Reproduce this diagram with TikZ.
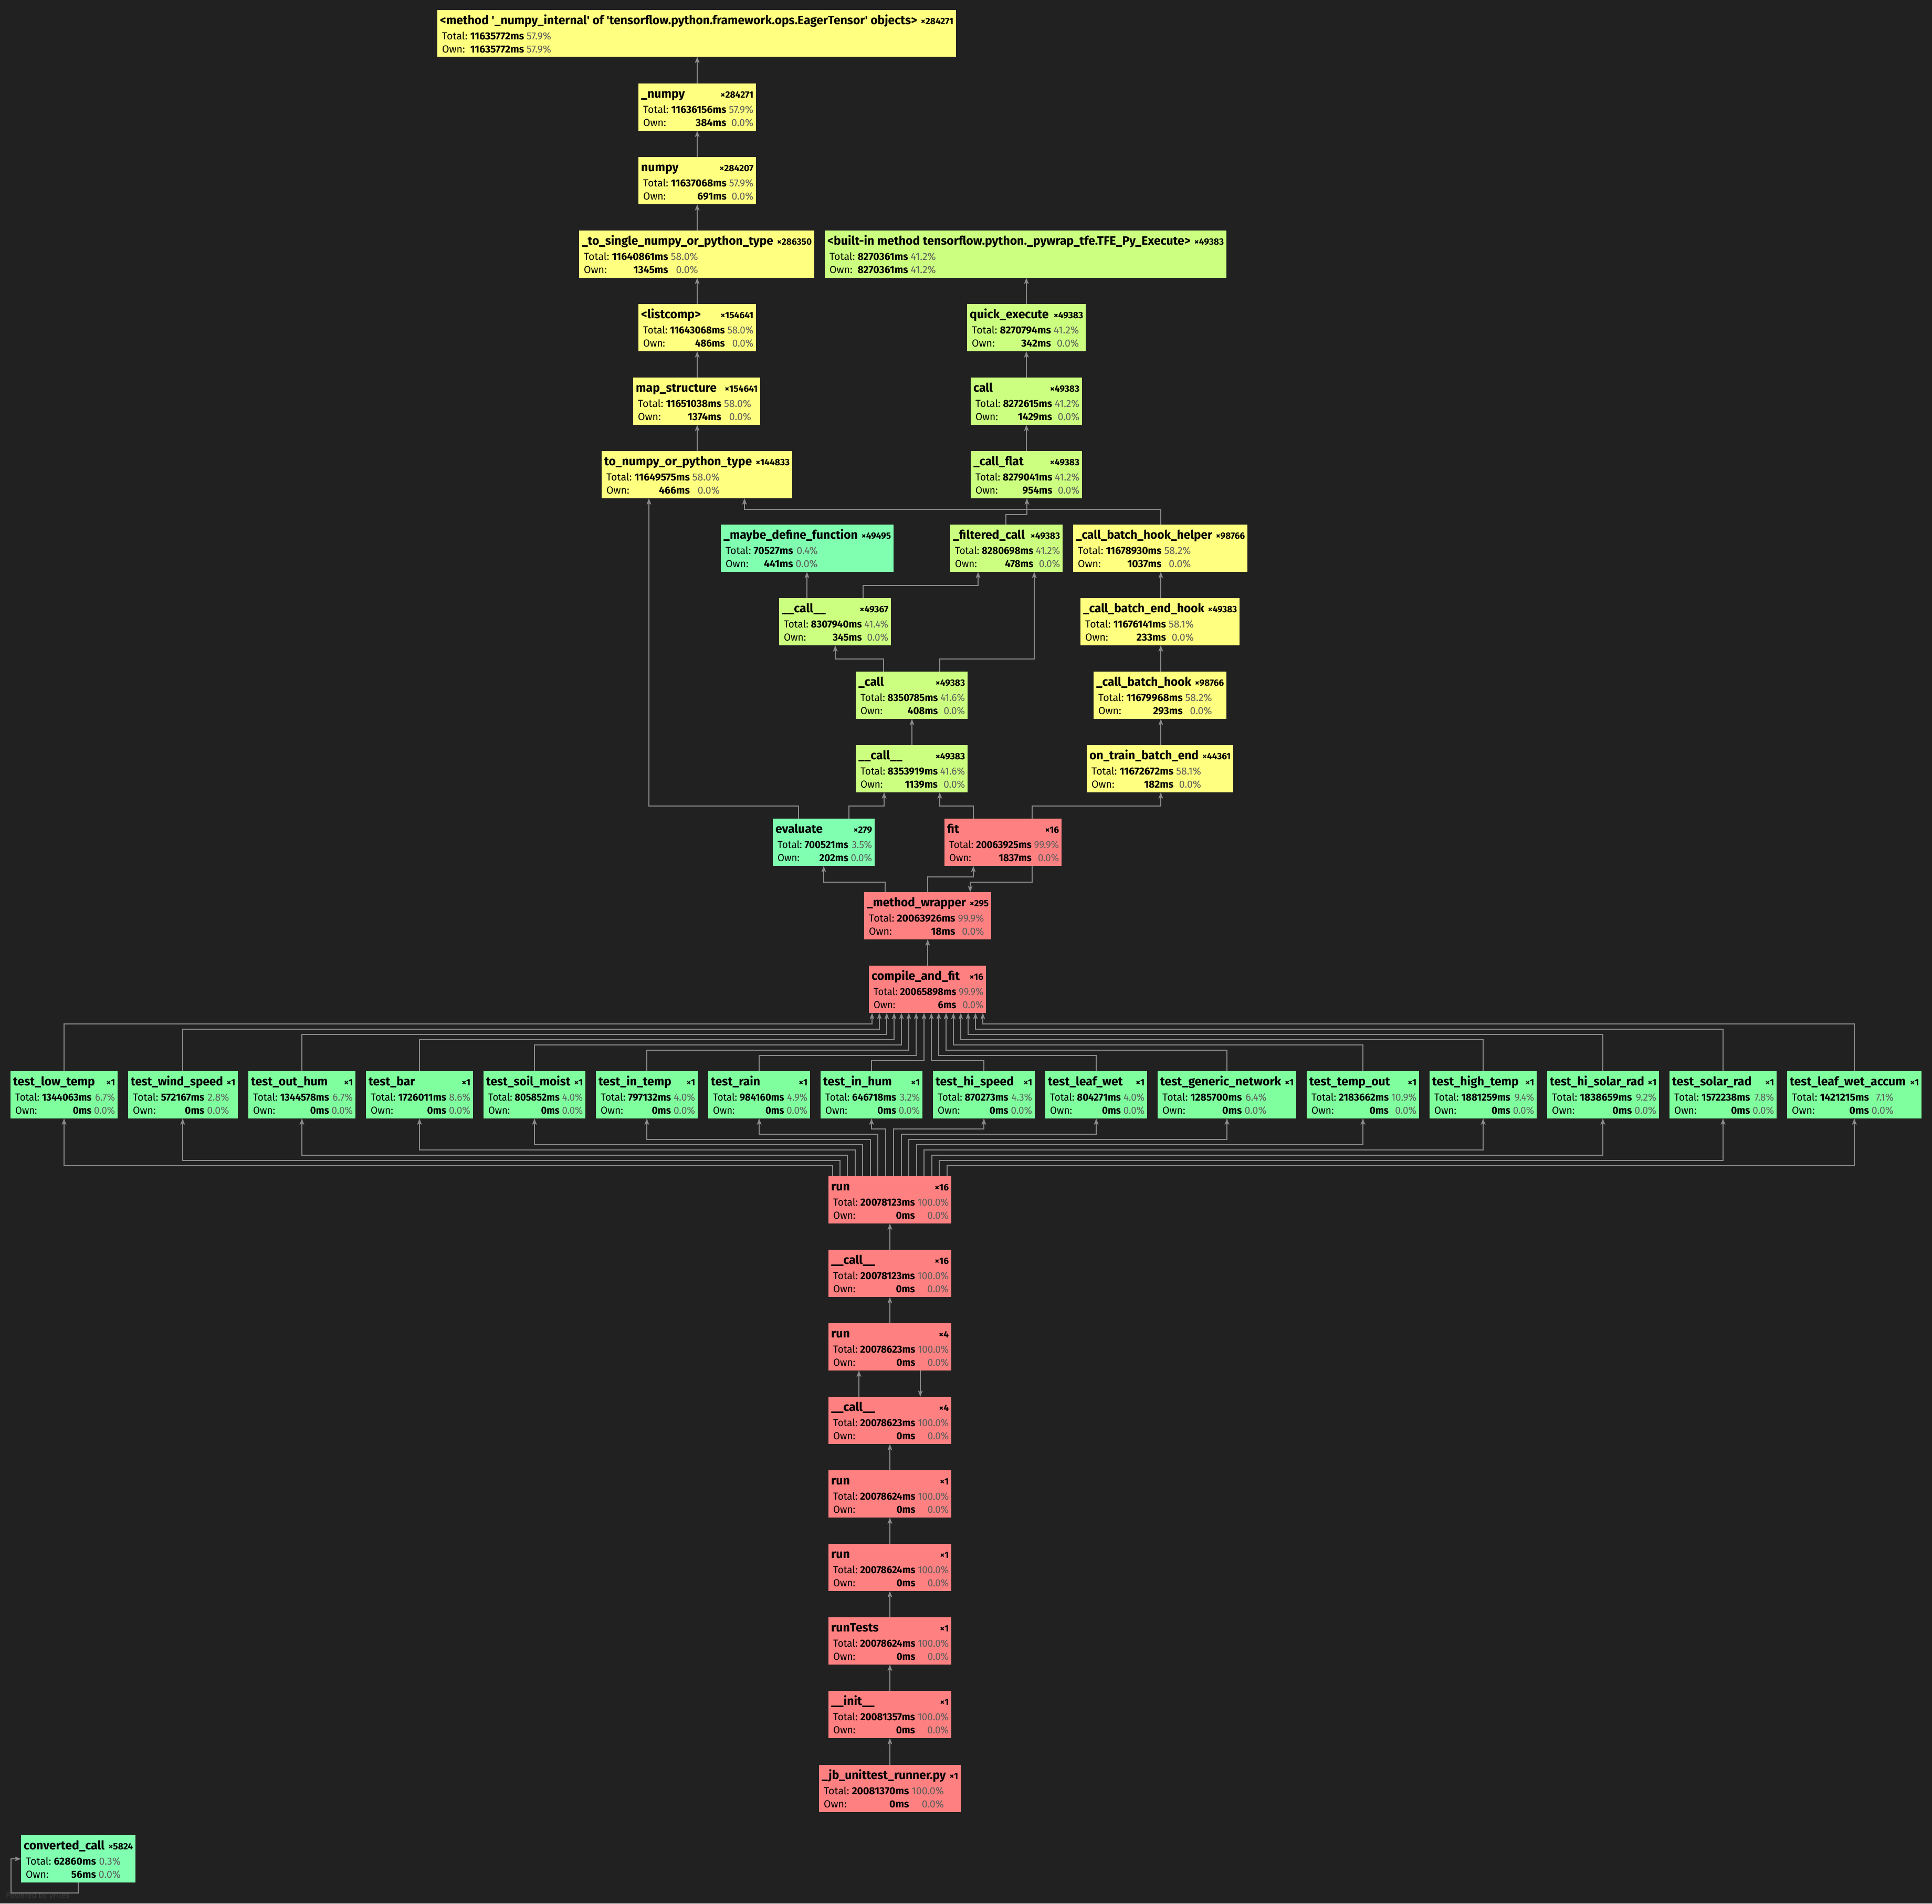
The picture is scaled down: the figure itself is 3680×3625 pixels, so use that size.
\documentclass[tikz,border=0pt]{standalone}
\usepackage{fontspec}
\setmainfont{Fira Sans}
\usepackage{graphicx}
\usetikzlibrary{arrows.meta}
\definecolor{bg}{HTML}{212121}
\definecolor{cY}{HTML}{FFFF80}
\definecolor{cL}{HTML}{CCFF80}
\definecolor{cM}{HTML}{80FFB0}
\definecolor{cG}{HTML}{80FF9F}
\definecolor{cR}{HTML}{FF8080}
\definecolor{pctgray}{HTML}{5C5C5C}
\definecolor{edgec}{HTML}{8A8A8A}
\definecolor{wmark}{HTML}{3A3A3A}
\newsavebox\fbA
\newlength\fbW \newlength\fbV \newlength\fbH
\newcommand\titlefont{\fontsize{23}{25}\selectfont\bfseries}
\newcommand\countfont{\fontsize{17.5}{20}\selectfont\bfseries}
\newcommand\bodyfont{\fontsize{19.5}{25}\selectfont}
\newcommand\squeeze[2]{\sbox\fbA{#2}\setlength\fbH{\ht\fbA}\ifdim\wd\fbA>#1\relax\resizebox{#1}{\fbH}{\usebox\fbA}\else\usebox\fbA\fi}
\newcommand\titleline[3]{\sbox\fbA{\titlefont #2\hspace{7pt}\countfont #3}\setlength\fbH{\ht\fbA}\ifdim\wd\fbA>#1\relax\resizebox{#1}{\fbH}{\usebox\fbA}\else\makebox[#1][l]{\titlefont #2\hfill\countfont #3}\fi}
\newcommand\stats[4]{{\bodyfont\begin{tabular}[t]{@{}l@{\hspace{5pt}}r@{\hspace{5pt}}r@{}}Total: & \textbf{#1} & \textcolor{pctgray}{#2}\\Own: & \textbf{#3} & \textcolor{pctgray}{#4}\end{tabular}}}
\newcommand\fnode[9]{%
 \node[fill=#6, inner sep=0pt, outer sep=0pt, minimum width={#4-#2}, minimum height={#5-#3}, anchor=north west] (#1) at (#2,#3) {};
 \setlength\fbW{\dimexpr #4pt-#2pt-10pt\relax}%
 \setlength\fbV{\dimexpr #4pt-#2pt-14pt\relax}%
 \node[anchor=base west, inner sep=0pt] at ([shift={(5,27)}]#1.north west) {\titleline{\fbW}{#7}{#8}};
 \node[anchor=base west, inner sep=0pt] at ([shift={(9,56)}]#1.north west) {\squeeze{\fbV}{#9}};
}
\newcommand\q{\textquotesingle}
\begin{document}
\begin{tikzpicture}[x=1pt,y=-1pt,
  edge/.style={draw=edgec, line width=1.6pt, -{Stealth[length=12pt,width=9pt,inset=3pt]}}]
\fill[bg] (0,0) rectangle (3680,3625);
\useasboundingbox (0,0) rectangle (3680,3625);
% ---- left column (yellow)
\fnode{meth}{833}{19}{1821}{108}{cY}{<method \q\_numpy\_internal\q{} of \q tensorflow.python.framework.ops.EagerTensor\q{} objects>}{×284271}{\stats{11635772ms}{57.9\%}{11635772ms}{57.9\%}}
\fnode{unp}{1216}{159}{1440}{249}{cY}{\_numpy}{×284271}{\stats{11636156ms}{57.9\%}{384ms}{0.0\%}}
\fnode{np}{1216}{299}{1440}{389}{cY}{numpy}{×284207}{\stats{11637068ms}{57.9\%}{691ms}{0.0\%}}
\fnode{tosingle}{1103}{439}{1551}{529}{cY}{\_to\_single\_numpy\_or\_python\_type}{×286350}{\stats{11640861ms}{58.0\%}{1345ms}{0.0\%}}
\fnode{listc}{1216}{579}{1440}{669}{cY}{<listcomp>}{×154641}{\stats{11643068ms}{58.0\%}{486ms}{0.0\%}}
\fnode{mapst}{1206}{719}{1448}{809}{cY}{map\_structure}{×154641}{\stats{11651038ms}{58.0\%}{1374ms}{0.0\%}}
\fnode{tonp}{1146}{859}{1509}{949}{cY}{to\_numpy\_or\_python\_type}{×144833}{\stats{11649575ms}{58.0\%}{466ms}{0.0\%}}
% ---- right column (lime)
\fnode{builtin}{1571}{439}{2336}{529}{cL}{<built-in method tensorflow.python.\_pywrap\_tfe.TFE\_Py\_Execute>}{×49383}{\stats{8270361ms}{41.2\%}{8270361ms}{41.2\%}}
\fnode{quick}{1842}{579}{2068}{669}{cL}{quick\_execute}{×49383}{\stats{8270794ms}{41.2\%}{342ms}{0.0\%}}
\fnode{callq}{1849}{719}{2061}{809}{cL}{call}{×49383}{\stats{8272615ms}{41.2\%}{1429ms}{0.0\%}}
\fnode{callflat}{1849}{859}{2061}{949}{cL}{\_call\_flat}{×49383}{\stats{8279041ms}{41.2\%}{954ms}{0.0\%}}
\fnode{maybedef}{1373}{999}{1702}{1089}{cM}{\_maybe\_define\_function}{×49495}{\stats{70527ms}{0.4\%}{441ms}{0.0\%}}
\fnode{filt}{1810}{999}{2024}{1089}{cL}{\_filtered\_call}{×49383}{\stats{8280698ms}{41.2\%}{478ms}{0.0\%}}
\fnode{helper}{2044}{999}{2376}{1089}{cY}{\_call\_batch\_hook\_helper}{×98766}{\stats{11678930ms}{58.2\%}{1037ms}{0.0\%}}
\fnode{callA}{1484}{1139}{1697}{1229}{cL}{\_\_call\_\_}{×49367}{\stats{8307940ms}{41.4\%}{345ms}{0.0\%}}
\fnode{endhook}{2058}{1139}{2361}{1229}{cY}{\_call\_batch\_end\_hook}{×49383}{\stats{11676141ms}{58.1\%}{233ms}{0.0\%}}
\fnode{callx}{1630}{1279}{1843}{1369}{cL}{\_call}{×49383}{\stats{8350785ms}{41.6\%}{408ms}{0.0\%}}
\fnode{bhook}{2083}{1279}{2336}{1369}{cY}{\_call\_batch\_hook}{×98766}{\stats{11679968ms}{58.2\%}{293ms}{0.0\%}}
\fnode{callB}{1630}{1419}{1843}{1509}{cL}{\_\_call\_\_}{×49383}{\stats{8353919ms}{41.6\%}{1139ms}{0.0\%}}
\fnode{ontrain}{2070}{1419}{2349}{1509}{cY}{on\_train\_batch\_end}{×44361}{\stats{11672672ms}{58.1\%}{182ms}{0.0\%}}
\fnode{evalu}{1472}{1559}{1666}{1649}{cM}{evaluate}{×279}{\stats{700521ms}{3.5\%}{202ms}{0.0\%}}
\fnode{fit}{1799}{1559}{2022}{1649}{cR}{fit}{×16}{\stats{20063925ms}{99.9\%}{1837ms}{0.0\%}}
\fnode{mw}{1646}{1699}{1888}{1789}{cR}{\_method\_wrapper}{×295}{\stats{20063926ms}{99.9\%}{18ms}{0.0\%}}
\fnode{cf}{1655}{1839}{1878}{1929}{cR}{compile\_and\_fit}{×16}{\stats{20065898ms}{99.9\%}{6ms}{0.0\%}}
% ---- test row
\fnode{t0}{20}{2040}{224}{2130}{cG}{test\_low\_temp}{×1}{\stats{1344063ms}{6.7\%}{0ms}{0.0\%}}
\fnode{t1}{244}{2040}{453}{2130}{cG}{test\_wind\_speed}{×1}{\stats{572167ms}{2.8\%}{0ms}{0.0\%}}
\fnode{t2}{473}{2040}{677}{2130}{cG}{test\_out\_hum}{×1}{\stats{1344578ms}{6.7\%}{0ms}{0.0\%}}
\fnode{t3}{697}{2040}{901}{2130}{cG}{test\_bar}{×1}{\stats{1726011ms}{8.6\%}{0ms}{0.0\%}}
\fnode{t4}{921}{2040}{1115}{2130}{cG}{test\_soil\_moist}{×1}{\stats{805852ms}{4.0\%}{0ms}{0.0\%}}
\fnode{t5}{1135}{2040}{1329}{2130}{cG}{test\_in\_temp}{×1}{\stats{797132ms}{4.0\%}{0ms}{0.0\%}}
\fnode{t6}{1349}{2040}{1543}{2130}{cG}{test\_rain}{×1}{\stats{984160ms}{4.9\%}{0ms}{0.0\%}}
\fnode{t7}{1563}{2040}{1757}{2130}{cG}{test\_in\_hum}{×1}{\stats{646718ms}{3.2\%}{0ms}{0.0\%}}
\fnode{t8}{1777}{2040}{1971}{2130}{cG}{test\_hi\_speed}{×1}{\stats{870273ms}{4.3\%}{0ms}{0.0\%}}
\fnode{t9}{1991}{2040}{2185}{2130}{cG}{test\_leaf\_wet}{×1}{\stats{804271ms}{4.0\%}{0ms}{0.0\%}}
\fnode{t10}{2205}{2040}{2469}{2130}{cG}{test\_generic\_network}{×1}{\stats{1285700ms}{6.4\%}{0ms}{0.0\%}}
\fnode{t11}{2489}{2040}{2703}{2130}{cG}{test\_temp\_out}{×1}{\stats{2183662ms}{10.9\%}{0ms}{0.0\%}}
\fnode{t12}{2723}{2040}{2927}{2130}{cG}{test\_high\_temp}{×1}{\stats{1881259ms}{9.4\%}{0ms}{0.0\%}}
\fnode{t13}{2947}{2040}{3160}{2130}{cG}{test\_hi\_solar\_rad}{×1}{\stats{1838659ms}{9.2\%}{0ms}{0.0\%}}
\fnode{t14}{3180}{2040}{3384}{2130}{cG}{test\_solar\_rad}{×1}{\stats{1572238ms}{7.8\%}{0ms}{0.0\%}}
\fnode{t15}{3404}{2040}{3660}{2130}{cG}{test\_leaf\_wet\_accum}{×1}{\stats{1421215ms}{7.1\%}{0ms}{0.0\%}}
% ---- bottom chain
\fnode{run16}{1578}{2240}{1812}{2330}{cR}{run}{×16}{\stats{20078123ms}{100.0\%}{0ms}{0.0\%}}
\fnode{call16}{1578}{2380}{1812}{2470}{cR}{\_\_call\_\_}{×16}{\stats{20078123ms}{100.0\%}{0ms}{0.0\%}}
\fnode{run4}{1578}{2520}{1812}{2610}{cR}{run}{×4}{\stats{20078623ms}{100.0\%}{0ms}{0.0\%}}
\fnode{call4}{1578}{2660}{1812}{2750}{cR}{\_\_call\_\_}{×4}{\stats{20078623ms}{100.0\%}{0ms}{0.0\%}}
\fnode{runa}{1578}{2800}{1812}{2890}{cR}{run}{×1}{\stats{20078624ms}{100.0\%}{0ms}{0.0\%}}
\fnode{runb}{1578}{2940}{1812}{3030}{cR}{run}{×1}{\stats{20078624ms}{100.0\%}{0ms}{0.0\%}}
\fnode{runtests}{1578}{3080}{1812}{3170}{cR}{runTests}{×1}{\stats{20078624ms}{100.0\%}{0ms}{0.0\%}}
\fnode{init}{1578}{3220}{1812}{3310}{cR}{\_\_init\_\_}{×1}{\stats{20081357ms}{100.0\%}{0ms}{0.0\%}}
\fnode{jb}{1560}{3361}{1830}{3451}{cR}{\_jb\_unittest\_runner.py}{×1}{\stats{20081370ms}{100.0\%}{0ms}{0.0\%}}
\fnode{conv}{40}{3495}{258}{3585}{cM}{converted\_call}{×5824}{\stats{62860ms}{0.3\%}{56ms}{0.0\%}}
\node[anchor=base west, inner sep=0pt, text=wmark, font=\fontsize{15}{18}\selectfont] (yf) at (11,3614) {Powered by yFiles};
% ---- edges, upper part
\draw[edge] (unp.north -| 1328,0) -- (meth.south -| 1328,0);
\draw[edge] (np.north -| 1328,0) -- (unp.south -| 1328,0);
\draw[edge] (tosingle.north -| 1328,0) -- (np.south -| 1328,0);
\draw[edge] (listc.north -| 1328,0) -- (tosingle.south -| 1328,0);
\draw[edge] (mapst.north -| 1328,0) -- (listc.south -| 1328,0);
\draw[edge] (tonp.north -| 1328,0) -- (mapst.south -| 1328,0);
\draw[edge] (quick.north -| 1955,0) -- (builtin.south -| 1955,0);
\draw[edge] (callq.north -| 1955,0) -- (quick.south -| 1955,0);
\draw[edge] (callflat.north -| 1955,0) -- (callq.south -| 1955,0);
\draw[edge] (filt.north -| 1916,0) |- (1956,980) -- (callflat.south -| 1956,0);
\draw[edge] (helper.north -| 2211,0) |- (1418,970) -- (tonp.south -| 1418,0);
\draw[edge] (callA.north -| 1537,0) -- (maybedef.south -| 1537,0);
\draw[edge] (callA.north -| 1644,0) |- (1863,1115) -- (filt.south -| 1863,0);
\draw[edge] (callx.north -| 1683,0) |- (1591,1255) -- (callA.south -| 1591,0);
\draw[edge] (callx.north -| 1790,0) |- (1970,1255) -- (filt.south -| 1970,0);
\draw[edge] (callB.north -| 1737,0) -- (callx.south -| 1737,0);
\draw[edge] (endhook.north -| 2211,0) -- (helper.south -| 2211,0);
\draw[edge] (bhook.north -| 2211,0) -- (endhook.south -| 2211,0);
\draw[edge] (ontrain.north -| 2211,0) -- (bhook.south -| 2211,0);
\draw[edge] (evalu.north -| 1521,0) |- (1236,1535) -- (tonp.south -| 1236,0);
\draw[edge] (evalu.north -| 1617,0) |- (1684,1535) -- (callB.south -| 1684,0);
\draw[edge] (fit.north -| 1854,0) |- (1790,1535) -- (callB.south -| 1790,0);
\draw[edge] (fit.north -| 1966,0) |- (2211,1535) -- (ontrain.south -| 2211,0);
\draw[edge] (mw.north -| 1686,0) |- (1569,1680) -- (evalu.south -| 1569,0);
\draw[edge] (mw.north -| 1767,0) |- (1854,1670) -- (fit.south -| 1854,0);
\draw[edge] (fit.south -| 1966,0) |- (1848,1680) -- (mw.north -| 1848,0);
\draw[edge] (cf.north -| 1767,0) -- (mw.south -| 1767,0);
% ---- tests
\foreach \i/\cx/\ax/\yl/\rx/\yb in {0/122/1661/1950/1586/2220, 1/348/1675/1960/1600/2210, 2/575/1689/1970/1614/2200, 3/799/1703/1980/1629/2190, 4/1018/1717/1990/1643/2180, 5/1232/1731/2000/1658/2170, 6/1446/1745/2010/1672/2160, 7/1660/1760/2020/1687/2150, 8/1874/1774/2020/1702/2150, 9/2088/1788/2010/1717/2160, 10/2337/1802/2000/1731/2170, 11/2596/1816/1990/1746/2180, 12/2825/1830/1980/1760/2190, 13/3053/1844/1970/1775/2200, 14/3282/1858/1960/1789/2210, 15/3532/1872/1950/1804/2220}{
  \draw[edge] (t\i.north -| \cx,0) |- (\ax,\yl) -- (cf.south -| \ax,0);
  \draw[edge] (run16.north -| \rx,0) |- (\cx,\yb) -- (t\i.south -| \cx,0);
}
% ---- chain
\draw[edge] (call16.north -| 1695,0) -- (run16.south -| 1695,0);
\draw[edge] (run4.north -| 1695,0) -- (call16.south -| 1695,0);
\draw[edge] (call4.north -| 1636,0) -- (run4.south -| 1636,0);
\draw[edge] (run4.south -| 1753,0) -- (call4.north -| 1753,0);
\draw[edge] (runa.north -| 1695,0) -- (call4.south -| 1695,0);
\draw[edge] (runb.north -| 1695,0) -- (runa.south -| 1695,0);
\draw[edge] (runtests.north -| 1695,0) -- (runb.south -| 1695,0);
\draw[edge] (init.north -| 1695,0) -- (runtests.south -| 1695,0);
\draw[edge] (jb.north -| 1695,0) -- (init.south -| 1695,0);
\draw[edge] (conv.south -| 149,0) |- (21,3605) |- (conv.west |- 0,3540);
\end{tikzpicture}
\end{document}
